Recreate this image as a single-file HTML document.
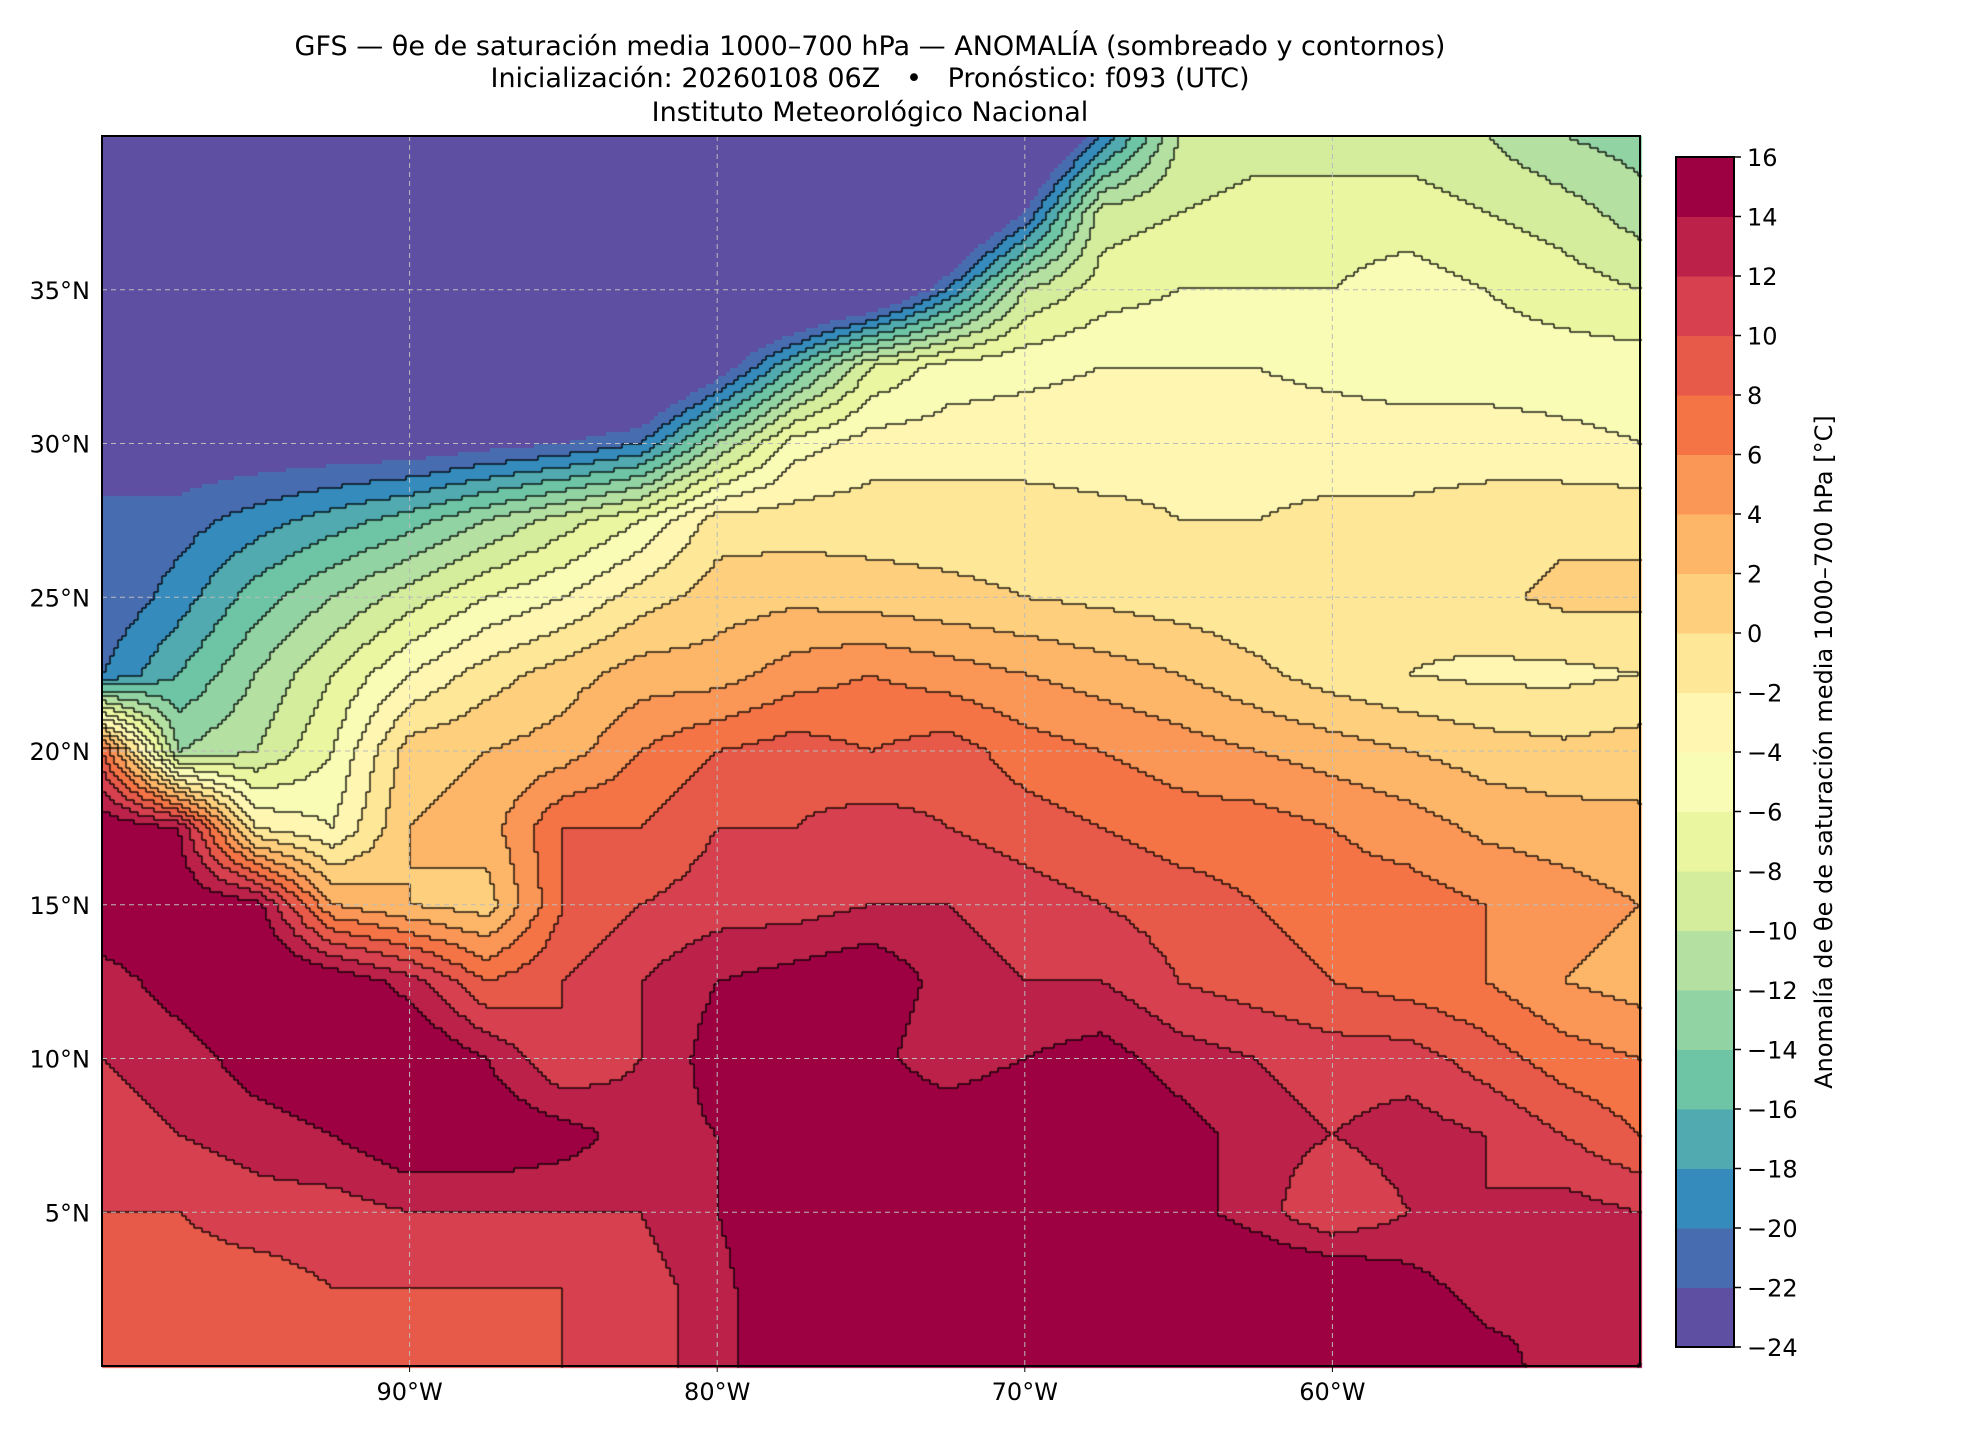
<!DOCTYPE html>
<html><head><meta charset="utf-8"><style>
body{margin:0;background:#fff;width:1980px;height:1440px;overflow:hidden;font-family:"DejaVu Sans","Liberation Sans",sans-serif}
#wrap{position:relative;width:1980px;height:1440px}
canvas{position:absolute;left:0;top:0}
svg{position:absolute;left:0;top:0}
</style></head><body>
<div id="wrap">
<canvas id="field" width="1980" height="1440"></canvas>
<svg id="ov" width="1980" height="1440"></svg>
</div>
<script>
// grid data: lon -100..-50 step 2.5, lat 40..0 step 2.5
const lons=[-100,-97.5,-95,-92.5,-90,-87.5,-85,-82.5,-80,-77.5,-75,-72.5,-70,-67.5,-65,-62.5,-60,-57.5,-55,-52.5,-50];
const lats=[40,37.5,35,32.5,30,27.5,25,22.5,20,17.5,15,12.5,10,7.5,5,2.5,0];
const r40=[-30,-30,-30,-30,-30,-30,-30,-30,-30,-30,-30,-30,-30,-20,-10,-9,-9,-9,-10,-12,-13];
const r375=[-30,-30,-30,-30,-30,-30,-30,-30,-30,-30,-30,-30,-22,-9,-8,-7,-7,-7,-8,-9,-11];
const r35=[-30,-30,-30,-30,-30,-30,-30,-30,-30,-30,-28,-20,-10,-7,-6,-6,-6,-5,-6,-7,-8];
const r325=[-22,-30,-30,-30,-30,-30,-30,-30,-24,-16,-8,-5,-4.5,-4,-4,-4,-4.5,-5,-5,-5,-5];
const r30=[-22,-24,-24,-24,-24,-23,-22,-20,-12,-5,-3,-3,-3,-3,-2.5,-3,-3,-3,-3,-3.5,-4];
const r275=[-22,-21,-19,-17,-15,-12,-9,-6,-1,-1,-1,-1,-1,-1.5,-2,-2,-1.5,-1.5,-1,-0.5,-0.5];
const r25=[-22,-19,-15,-12,-9,-6,-4,-1,1,1.5,1,0.5,0,-0.5,-1,-1.5,-2,-1.5,-0.5,0.5,0.5];
const r225=[-20,-16,-12,-8,-4,-1,1,3,3,5,6,5,4,3,2,0.5,-1,-2,-2.5,-2.5,-2];
const r20=[8,-12,-10,-6,1,2,3,6,8,9,8,9,7,6,5,4,3,2,1,0.5,1];
const r175=[16,14,-2,-4,2,3,8,8,10,10,11,10,9,8,7,7,6,5,3.5,3,2.5];
const r15=[16,16,15,4,2,1,8,10,11,11,12,12,11,10,9,8,7,7,6,5,4];
const r125=[13,15,17,16,13,8,10,12,14,15,16,13,12,12,10,9,8,7,6,4,3];
const r10=[12,13,15,16,17,14,10,12,15,17,15,12,14,15,13,12,11,11,9,7,6];
const r75=[11,12,13,14,16,16,15,13,14,15,17,17,18,17,15,13,12,13,12,10,8];
const r5=[10,10,11,11,12,12,12,12,14,17,18,17,18,17,15,13,10,12,12,13,12];
const r25s=[8,9,9,10,10,10,10,11,13,17,17,18,18,17,17,17,17,15,13,14,13];
const r0=[8,8,8,8,9,9,10,11,13,17,18,18,18,18,17,17,17,17,15,13,14];
const rows=[r40,r375,r35,r325,r30,r275,r25,r225,r20,r175,r15,r125,r10,r75,r5,r25s,r0];
const cbTicks=[-24,-22,-20,-18,-16,-14,-12,-10,-8,-6,-4,-2,0,2,4,6,8,10,12,14,16];
const lonTicks=[-90,-80,-70,-60];
const latTicks=[5,10,15,20,25,30,35];

const X0=102,X1=1640,Y0=136,Y1=1366;
const xs=lon=>X0+(lon+100)/50*(X1-X0);
const ys=lat=>Y0+(40-lat)/40*(Y1-Y0);
const stops=['#5e4fa2','#3288bd','#66c2a5','#abdda4','#e6f598','#ffffbf','#fee08b','#fdae61','#f46d43','#d53e4f','#9e0142'];
function hex(h){return [1,3,5].map(i=>parseInt(h.substr(i,2),16));}
function cmap(t){t=Math.max(0,Math.min(1,t));const p=t*10,i=Math.min(9,Math.floor(p)),f=p-i;const a=hex(stops[i]),b=hex(stops[i+1]);return 'rgb('+a.map((v,k)=>Math.round(v+(b[k]-v)*f)).join(',')+')';}
const NL=20;const cols=[];for(let i=0;i<NL;i++)cols.push(cmap(i/(NL-1)));
function val(lon,lat){
  let fx=(lon+100)/2.5, fy=(40-lat)/2.5;
  let i=Math.min(lons.length-2,Math.max(0,Math.floor(fx))), j=Math.min(lats.length-2,Math.max(0,Math.floor(fy)));
  let u=fx-i,v=fy-j;
  return rows[j][i]*(1-u)*(1-v)+rows[j][i+1]*u*(1-v)+rows[j+1][i]*(1-u)*v+rows[j+1][i+1]*u*v;
}
function lev(v){return Math.max(0,Math.min(NL-1,Math.floor((v+24)/2)));}
const ctx=document.getElementById('field').getContext('2d');
const C=4,nx=Math.ceil((X1-X0)/C),ny=Math.ceil((Y1-Y0)/C);
const L=[];
for(let j=0;j<ny;j++){L.push([]);for(let i=0;i<nx;i++){
  const px=X0+(i+0.5)*C,py=Y0+(j+0.5)*C;
  const lon=-100+(px-X0)/(X1-X0)*50,lat=40-(py-Y0)/(Y1-Y0)*40;
  const v=val(lon,lat);L[j].push({l:lev(v),v:v});
  ctx.fillStyle=cols[lev(v)];ctx.fillRect(X0+i*C,Y0+j*C,C,C);
}}
ctx.strokeStyle='#000';ctx.lineWidth=1.3;
for(let j=0;j<ny;j++)for(let i=0;i<nx;i++){
  const a=L[j][i];
  if(a.v<-22)continue;
  if(i+1<nx&&L[j][i+1].l!==a.l&&L[j][i+1].v>=-22){ctx.beginPath();ctx.moveTo(X0+(i+1)*C,Y0+j*C);ctx.lineTo(X0+(i+1)*C,Y0+(j+1)*C);ctx.stroke();}
  if(j+1<ny&&L[j+1][i].l!==a.l&&L[j+1][i].v>=-22){ctx.beginPath();ctx.moveTo(X0+i*C,Y0+(j+1)*C);ctx.lineTo(X0+(i+1)*C,Y0+(j+1)*C);ctx.stroke();}
}
const svg=document.getElementById('ov');const NS='http://www.w3.org/2000/svg';
function mk(t,at,txt){const e=document.createElementNS(NS,t);for(const k in at)e.setAttribute(k,at[k]);if(txt!==undefined)e.textContent=txt;svg.appendChild(e);return e;}
lonTicks.forEach(lo=>{const x=xs(lo);
  let g=mk('line',{x1:x,x2:x,y1:Y0,y2:Y1,stroke:'#bbb','stroke-dasharray':'5,4','stroke-width':1});
  
  
  let t=mk('text',{x:x,y:Y1+34,'font-size':24,'text-anchor':'middle'},(-lo)+'°W');
  
  
  let k=mk('line',{x1:x,x2:x,y1:Y1,y2:Y1+6,stroke:'#000'});
  
  
});
latTicks.forEach(la=>{const y=ys(la);
  let g=mk('line',{x1:X0,x2:X1,y1:y,y2:y,stroke:'#bbb','stroke-dasharray':'5,4','stroke-width':1});
  
  
  let t=mk('text',{x:X0-12,y:y+9,'font-size':24,'text-anchor':'end'},la+'°N');
  
  
});
let fr=mk('rect',{x:X0,y:Y0,width:X1-X0,height:Y1-Y0,fill:'none',stroke:'#000','stroke-width':2});


// colorbar
const CX=1676,CW=58,CT=157,CB=1347;
const ch=(CB-CT)/NL;
for(let i=0;i<NL;i++){
  let r=mk('rect',{x:CX,y:CB-(i+1)*ch,width:CW,height:ch+0.5,fill:cols[i]});
  
  
}
let cbf=mk('rect',{x:CX,y:CT,width:CW,height:CB-CT,fill:'none',stroke:'#000','stroke-width':2});


cbTicks.forEach((v,i)=>{const y=CB-i*ch;
  let k=mk('line',{x1:CX+CW,x2:CX+CW+7,y1:y,y2:y,stroke:'#000','stroke-width':1.5});
  
  
  let t=mk('text',{x:CX+CW+13,y:y+9,'font-size':24},v<0?'−'+(-v):''+v);
  
  
});
let cl=mk('text',{x:0,y:0,'font-size':24,'text-anchor':'middle',transform:'translate(1832,752) rotate(-90)'},'Anomalía de θe de saturación media 1000–700 hPa [°C]');


const titles=['GFS — θe de saturación media 1000–700 hPa — ANOMALÍA (sombreado y contornos)','Inicialización: 20260108 06Z   •   Pronóstico: f093 (UTC)','Instituto Meteorológico Nacional'];
[55,87,121].forEach((y,i)=>{let t=mk('text',{x:870,y:y,'font-size':27,'text-anchor':'middle','xml:space':'preserve'},titles[i]);
  t.setAttribute('style','white-space:pre');
  
  
});
</script>
</body></html>
